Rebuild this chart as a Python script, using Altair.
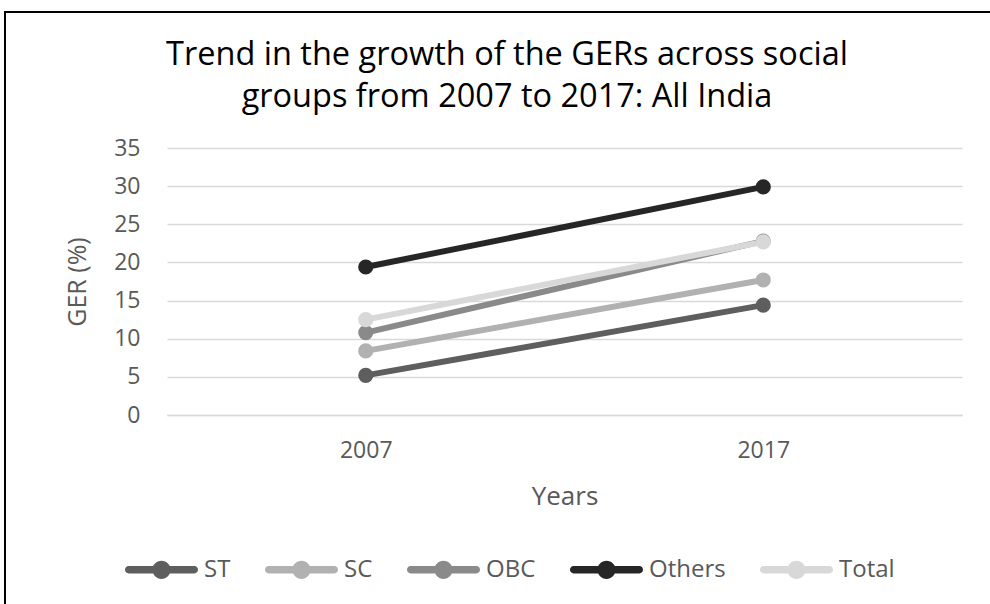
import altair as alt
import pandas as pd

years = ["2007", "2017"]
groups = ["ST", "SC", "OBC", "Others", "Total"]
st = [5.2, 14.4]
sc = [8.4, 17.7]
obc = [10.8, 22.8]
others = [19.4, 29.9]
total = [12.5, 22.7]
colors = ["#5e5e5e", "#b1b1b1", "#8a8a8a", "#262626", "#d8d8d8"]
y_ticks = [0, 5, 10, 15, 20, 25, 30, 35]
title_lines = ["Trend in the growth of the GERs across social",
               "groups from 2007 to 2017: All India"]

rows = []
for i, (g, c, vals) in enumerate(zip(groups, colors, [st, sc, obc, others, total])):
    for yr, v in zip(years, vals):
        rows.append({"Year": yr, "Group": g, "Series": g, "col": c, "GER": v, "ord": i})
df = pd.DataFrame(rows)

LABEL_FONT = "Open Sans"
TITLE_FONT = "Open Sans"

x_enc = alt.X(
    "Year:O",
    scale=alt.Scale(type="point", padding=0.5),
    axis=alt.Axis(
        title="Years", labelAngle=0, ticks=False, tickSize=0, domain=True,
        domainColor="#d9d9d9", domainWidth=1.5, labelPadding=24,
        labelFont=LABEL_FONT, labelFontSize=23, labelColor="#595959",
        titleFont=LABEL_FONT, titleFontSize=26, titleColor="#595959",
        titleFontWeight="normal", titlePadding=21, grid=False,
    ),
)
y_enc = alt.Y(
    "GER:Q",
    scale=alt.Scale(domain=[0, 35], nice=False),
    axis=alt.Axis(
        title="GER (%)", values=y_ticks, ticks=False, tickSize=0, domain=False,
        gridColor="#d9d9d9", gridWidth=1.5, labelPadding=27,
        labelFont=LABEL_FONT, labelFontSize=23, labelColor="#595959",
        titleFont=LABEL_FONT, titleFontSize=25, titleColor="#595959",
        titleFontWeight="normal", titlePadding=23, labelOverlap=False,
    ),
)

lines = alt.Chart(df).mark_line(strokeWidth=6, strokeCap="round").encode(
    x=x_enc,
    y=y_enc,
    stroke=alt.Stroke("col:N", scale=None),
    detail="Group:N",
)

legend_path = (
    "M-0.9,-0.1 L0.9,-0.1 A0.1,0.1 0 0,1 0.9,0.1 L-0.9,0.1 "
    "A0.1,0.1 0 0,1 -0.9,-0.1 Z "
    "M-0.25,0 A0.25,0.25 0 1,1 0.25,0 A0.25,0.25 0 1,1 -0.25,0 Z"
)

points = alt.Chart(df).mark_point(filled=True, size=230, opacity=1).encode(
    x=x_enc,
    y=y_enc,
    color=alt.Color(
        "Series:N",
        scale=alt.Scale(domain=groups, range=colors),
        legend=alt.Legend(
            title=None, orient="none", direction="horizontal",
            legendX=-42, legendY=385, symbolType=legend_path, symbolSize=5329,
            symbolStrokeWidth=0, symbolOpacity=1,
            labelFont=LABEL_FONT, labelFontSize=24, labelColor="#595959",
            labelOffset=6, columnPadding=34, padding=0,
        ),
    ),
    order="ord:Q",
)

frame = alt.Chart(pd.DataFrame({"a": [0]})).mark_rect(
    fill=None, stroke="#000000", strokeWidth=2
).encode(
    x=alt.value(-162), x2=alt.value(900), y=alt.value(-136), y2=alt.value(600)
)

t1 = alt.Chart(pd.DataFrame({"t": [title_lines[0]]})).mark_text(
    font=TITLE_FONT, fontSize=32.5, color="#000000", align="center", baseline="alphabetic"
).encode(text="t:N", x=alt.value(340), y=alt.value(-83))
t2 = alt.Chart(pd.DataFrame({"t": [title_lines[1]]})).mark_text(
    font=TITLE_FONT, fontSize=32.5, color="#000000", align="center", baseline="alphabetic"
).encode(text="t:N", x=alt.value(340), y=alt.value(-41))

chart = alt.layer(frame, lines, points, t1, t2).properties(
    width=795,
    height=267,
    padding={"left": 167, "top": 148, "right": 28, "bottom": 189},
    autosize=alt.AutoSizeParams(type="none"),
).configure(background="white", view=alt.ViewConfig(stroke=None))

chart.save("out.html", embed_options={"renderer": "svg", "actions": False})
